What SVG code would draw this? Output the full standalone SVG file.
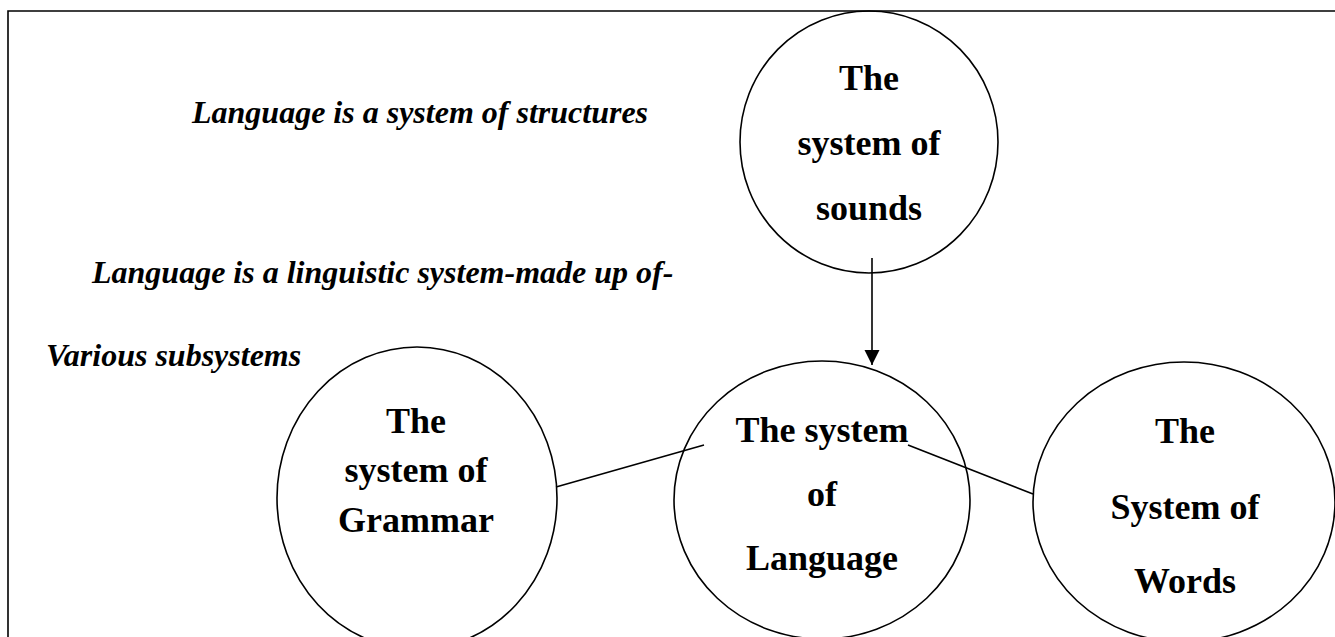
<svg xmlns="http://www.w3.org/2000/svg" width="1335" height="637" viewBox="0 0 1335 637">
<defs>
<style>
.frame{fill:none;stroke:#000;stroke-width:1.6}
.node{fill:none;stroke:#000;stroke-width:1.6}
.lbl{font-family:"Liberation Serif","Times New Roman",serif;font-weight:bold;font-size:36px;fill:#000;text-anchor:middle}
.it{font-family:"Liberation Serif","Times New Roman",serif;font-weight:bold;font-style:italic;font-size:32px;fill:#000}
.conn{fill:none;stroke:#000;stroke-width:1.6}
</style>
<marker id="arr" markerUnits="userSpaceOnUse" markerWidth="16" markerHeight="16" refX="15" refY="7.5" orient="auto">
<path d="M0,0 L15,7.5 L0,15 Z" fill="#000"/>
</marker>
</defs>
<rect width="1335" height="637" fill="#fff"/>
<path class="frame" d="M8,640 V11 H1340"/>
<text class="it" x="192" y="123">Language is a system of structures</text>
<text class="it" x="92" y="283">Language is a linguistic system-made up of-</text>
<text class="it" x="46" y="366">Various subsystems</text>
<g id="connectors">
<line class="conn" x1="872" y1="258" x2="872" y2="365" marker-end="url(#arr)"/>
<line class="conn" x1="556" y1="487" x2="704" y2="445"/>
<line class="conn" x1="908" y1="445" x2="1033" y2="494"/>
</g>
<g id="sounds">
<ellipse class="node" cx="869" cy="142" rx="129" ry="131"/>
<text class="lbl" x="869" y="90">The</text>
<text class="lbl" x="869" y="155">system of</text>
<text class="lbl" x="869" y="220">sounds</text>
</g>
<g id="grammar">
<ellipse class="node" cx="417" cy="498" rx="140" ry="151"/>
<text class="lbl" x="416" y="433">The</text>
<text class="lbl" x="416" y="482">system of</text>
<text class="lbl" x="416" y="532">Grammar</text>
</g>
<g id="language">
<ellipse class="node" cx="822" cy="500" rx="148" ry="139"/>
<text class="lbl" x="822" y="442">The system</text>
<text class="lbl" x="822" y="506">of</text>
<text class="lbl" x="822" y="570">Language</text>
</g>
<g id="words">
<ellipse class="node" cx="1184" cy="502" rx="151" ry="140"/>
<text class="lbl" x="1185" y="443">The</text>
<text class="lbl" x="1185" y="519">System of</text>
<text class="lbl" x="1185" y="593">Words</text>
</g>
</svg>
